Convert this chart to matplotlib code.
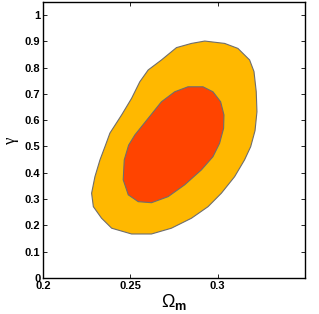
import matplotlib
matplotlib.use("Agg")
import matplotlib.pyplot as plt

# 95% region (outer)
outer_om = [0.2383, 0.2450, 0.2507, 0.2554, 0.2602, 0.2678, 0.2764, 0.2850,
            0.2926, 0.3040, 0.3116, 0.3183, 0.3208, 0.3221, 0.3225, 0.3214,
            0.3189, 0.3154, 0.3097, 0.3021, 0.2945, 0.2850, 0.2735,
            0.2621, 0.2507, 0.2393, 0.2335, 0.2288, 0.2278, 0.2297, 0.2326,
            0.2356]
outer_g = [0.551, 0.620, 0.683, 0.746, 0.791, 0.829, 0.876, 0.892,
           0.901, 0.892, 0.873, 0.829, 0.785, 0.708, 0.632, 0.560,
           0.499, 0.449, 0.385, 0.322, 0.271, 0.227, 0.189,
           0.167, 0.167, 0.189, 0.227, 0.271, 0.322, 0.385, 0.449,
           0.502]

# 68% region (inner)
inner_om = [0.2526, 0.2602, 0.2678, 0.2754, 0.2830, 0.2916, 0.2973, 0.3017,
            0.3036, 0.3034, 0.3011, 0.2973, 0.2907, 0.2811, 0.2716, 0.2621,
            0.2545, 0.2488, 0.2459, 0.2465, 0.2490]
inner_g = [0.544, 0.607, 0.670, 0.708, 0.727, 0.727, 0.708, 0.670,
           0.620, 0.569, 0.512, 0.461, 0.411, 0.354, 0.309, 0.286,
           0.290, 0.316, 0.373, 0.449, 0.505]

xticks = [0.2, 0.25, 0.3]
xticklabels = ["0.2", "0.25", "0.3"]
yticks = [0, 0.1, 0.2, 0.3, 0.4, 0.5, 0.6, 0.7, 0.8, 0.9, 1]
yticklabels = ["0", "0.1", "0.2", "0.3", "0.4", "0.5", "0.6", "0.7", "0.8", "0.9", "1"]

plt.rcParams['font.family'] = ['Liberation Sans', 'DejaVu Sans']
plt.rcParams['mathtext.fontset'] = 'custom'
plt.rcParams['mathtext.rm'] = 'Liberation Sans'
plt.rcParams['mathtext.bf'] = 'Liberation Sans:bold'

fig = plt.figure(figsize=(3.19, 3.14), dpi=100)
ax = fig.add_axes([0.135, 0.115, 0.821, 0.879])

ax.fill(outer_om, outer_g, facecolor='#ffb800', edgecolor='#6e6e6e', linewidth=0.8)
ax.fill(inner_om, inner_g, facecolor='#ff4400', edgecolor='#6e6e6e', linewidth=0.8)

ax.set_xlim(0.2, 0.35)
ax.set_ylim(0, 1.05)
ax.set_xticks(xticks)
ax.set_xticklabels(xticklabels, fontsize=8, fontweight='bold')
ax.set_yticks(yticks)
ax.set_yticklabels(yticklabels, fontsize=8, fontweight='bold')
ax.tick_params(direction='in', length=3, width=0.6, top=True, right=True, pad=2)
for s in ax.spines.values():
    s.set_linewidth(1.0)

ax.set_xlabel(r'$\mathrm{\Omega}_{\mathbf{m}}$', fontsize=13, labelpad=1)
ax.set_ylabel('γ', fontsize=12, family='Liberation Serif', labelpad=4)

fig.savefig("out.png", dpi=100)
plt.close(fig)
